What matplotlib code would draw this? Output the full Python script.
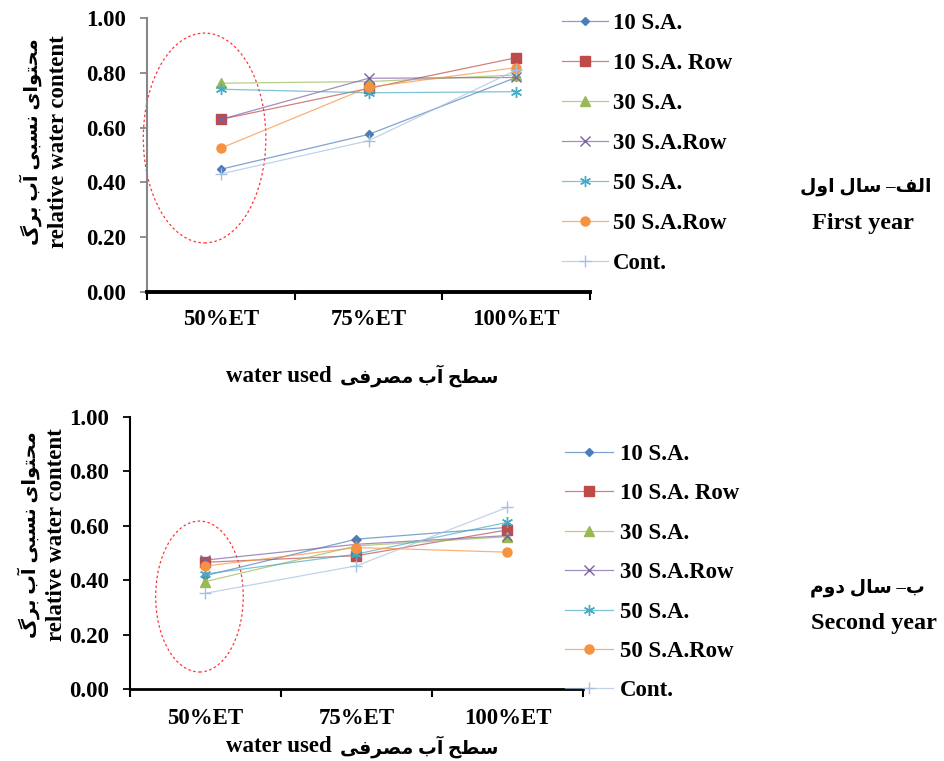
import numpy as np
import matplotlib
matplotlib.use('Agg')
import matplotlib.pyplot as plt
from matplotlib.patches import Ellipse
from matplotlib.colors import to_rgba

plt.rcParams['font.family'] = ['Liberation Serif', 'DejaVu Sans']
plt.rcParams['font.weight'] = 'bold'

# data
levels = ['50%ET', '75%ET', '100%ET']
series = ['10 S.A.', '10 S.A. Row', '30 S.A.', '30 S.A.Row', '50 S.A.', '50 S.A.Row', 'Cont.']
year1 = [
    [0.448, 0.575, 0.783],
    [0.630, 0.743, 0.855],
    [0.762, 0.768, 0.792],
    [0.630, 0.780, 0.783],
    [0.740, 0.727, 0.731],
    [0.525, 0.747, 0.819],
    [0.431, 0.552, 0.810],
]
year2 = [
    [0.417, 0.551, 0.594],
    [0.466, 0.490, 0.585],
    [0.395, 0.526, 0.560],
    [0.474, 0.532, 0.564],
    [0.423, 0.496, 0.613],
    [0.452, 0.520, 0.503],
    [0.352, 0.453, 0.668],
]
yticks = [0.0, 0.2, 0.4, 0.6, 0.8, 1.0]

colors = ['#4A7EBB', '#BE4B48', '#98B954', '#7D60A0', '#46AAC5', '#F69240', '#A7C0DE']
markers = ['D', 's', '^', 'x', (6, 2, 0), 'o', '+']
msizes = [4.5, 6.5, 6.5, 7, 8, 6.5, 8]

FS = 16.5  # main text size

# tiny Persian shaper (presentation forms, visual order)
FORMS = {
    'ا': ('\uFE8D', '\uFE8E', None, None),
    'آ': ('\uFE81', '\uFE82', None, None),
    'ب': ('\uFE8F', '\uFE90', '\uFE91', '\uFE92'),
    'ت': ('\uFE95', '\uFE96', '\uFE97', '\uFE98'),
    'ح': ('\uFEA1', '\uFEA2', '\uFEA3', '\uFEA4'),
    'د': ('\uFEA9', '\uFEAA', None, None),
    'ر': ('\uFEAD', '\uFEAE', None, None),
    'س': ('\uFEB1', '\uFEB2', '\uFEB3', '\uFEB4'),
    'ص': ('\uFEB9', '\uFEBA', '\uFEBB', '\uFEBC'),
    'ط': ('\uFEC1', '\uFEC2', '\uFEC3', '\uFEC4'),
    'ف': ('\uFED1', '\uFED2', '\uFED3', '\uFED4'),
    'ل': ('\uFEDD', '\uFEDE', '\uFEDF', '\uFEE0'),
    'م': ('\uFEE1', '\uFEE2', '\uFEE3', '\uFEE4'),
    'ن': ('\uFEE5', '\uFEE6', '\uFEE7', '\uFEE8'),
    'و': ('\uFEED', '\uFEEE', None, None),
    'ی': ('\uFBFC', '\uFBFD', '\uFBFE', '\uFBFF'),
    'گ': ('\uFB92', '\uFB93', '\uFB94', '\uFB95'),
}


def shape(text):
    out = []
    for i, ch in enumerate(text):
        f = FORMS.get(ch)
        if f is None:
            out.append(ch)
            continue
        prev = text[i - 1] if i > 0 else ''
        nxt = text[i + 1] if i + 1 < len(text) else ''
        jp = prev in FORMS and FORMS[prev][2] is not None
        jn = nxt in FORMS and f[2] is not None
        if jp and jn:
            out.append(f[3])
        elif jp:
            out.append(f[1])
        elif jn:
            out.append(f[2])
        else:
            out.append(f[0])
    return ''.join(reversed(out))


W, H = 945, 761
fig = plt.figure(figsize=(W / 100, H / 100), dpi=100)


def px(l, t, r, b):
    return [l / W, 1 - b / H, (r - l) / W, (b - t) / H]


def ftext(x, y, s, **kw):
    return fig.text(x / W, 1 - y / H, s, **kw)


def draw(ax, data, yaxis_color, xlw, ell, xpad):
    x = np.arange(len(levels))
    for vals, name, c, m, ms in zip(data, series, colors, markers, msizes):
        ax.plot(x, vals, color=to_rgba(c, 0.7), lw=0.9, marker=m, ms=ms,
                mfc=c, mec=c, mew=1.0, label=name)
    ax.add_patch(Ellipse(ell[:2], ell[2], ell[3], fill=False, ec='#FF3333',
                         lw=0.9, ls=(0, (2, 2)), clip_on=False))
    ax.set_xlim(-0.5, 2.5)
    ax.set_ylim(0, 1.0)
    ax.set_xticks([-0.5, 0.5, 1.5, 2.5])
    ax.set_xticklabels([])
    ax.set_xticks(x, minor=True)
    ax.set_xticklabels(levels, minor=True, fontsize=FS, fontweight='bold')
    ax.tick_params(axis='x', which='minor', length=0, pad=xpad)
    ax.tick_params(axis='x', which='major', length=6, width=1.5, color='black')
    ax.set_yticks(yticks)
    ax.set_yticklabels(['%.2f' % v for v in yticks], fontsize=FS, fontweight='bold')
    ax.tick_params(axis='y', length=5, width=1.3, color=yaxis_color, pad=10)
    for s in ['top', 'right']:
        ax.spines[s].set_visible(False)
    ax.spines['left'].set_color(yaxis_color)
    ax.spines['left'].set_linewidth(1.5)
    ax.spines['bottom'].set_linewidth(xlw)


ax1 = fig.add_axes(px(147, 18, 590, 292))
draw(ax1, year1, '#878787', 2.8, (-0.11, 0.562, 0.83, 0.766), 12)
ax2 = fig.add_axes(px(130, 417, 583, 689))
draw(ax2, year2, 'black', 2.0, (-0.04, 0.34, 0.58, 0.555), 14)

# y axis titles (two rotated lines)
ylab_fa = shape('محتوای نسبی آب برگ')
ylab_en = 'relative water content'
for xf, xe, yc in [(31, 59, 142), (29, 57, 535)]:
    ftext(xf, yc, ylab_fa, rotation=90, ha='center', va='center', fontsize=14, fontweight='bold')
    ftext(xe, yc, ylab_en, rotation=90, ha='center', va='center', fontsize=FS, fontweight='bold')

# x axis titles
xlab_fa = shape('سطح آب مصرفی')
for yc in [376, 747]:
    ftext(332, yc, 'water used', ha='right', va='center', fontsize=FS, fontweight='bold')
    ftext(498, yc, xlab_fa, ha='right', va='center', fontsize=13.5, fontweight='bold')

# panel captions
ftext(932, 187, shape('الف– سال اول'), ha='right', va='center', fontsize=13.5, fontweight='bold')
ftext(812, 224, 'First year', ha='left', va='center', fontsize=17.5, fontweight='bold')
ftext(925, 588, shape('ب– سال دوم'), ha='right', va='center', fontsize=13.5, fontweight='bold')
ftext(811, 624, 'Second year', ha='left', va='center', fontsize=17.5, fontweight='bold')

leg_kw = dict(frameon=False, prop={'weight': 'bold', 'size': FS},
              handlelength=2.0, handletextpad=0.22, labelspacing=0.83,
              borderaxespad=0, borderpad=0, loc='upper left')
h1, l1 = ax1.get_legend_handles_labels()
fig.legend(h1, l1, bbox_to_anchor=(562 / W, 1 - 13 / H), **leg_kw)
h2, l2 = ax2.get_legend_handles_labels()
fig.legend(h2, l2, bbox_to_anchor=(565 / W, 1 - 444 / H),
           **dict(leg_kw, handlelength=2.1, handletextpad=0.3, labelspacing=0.80))

fig.savefig('out.png', dpi=100)
